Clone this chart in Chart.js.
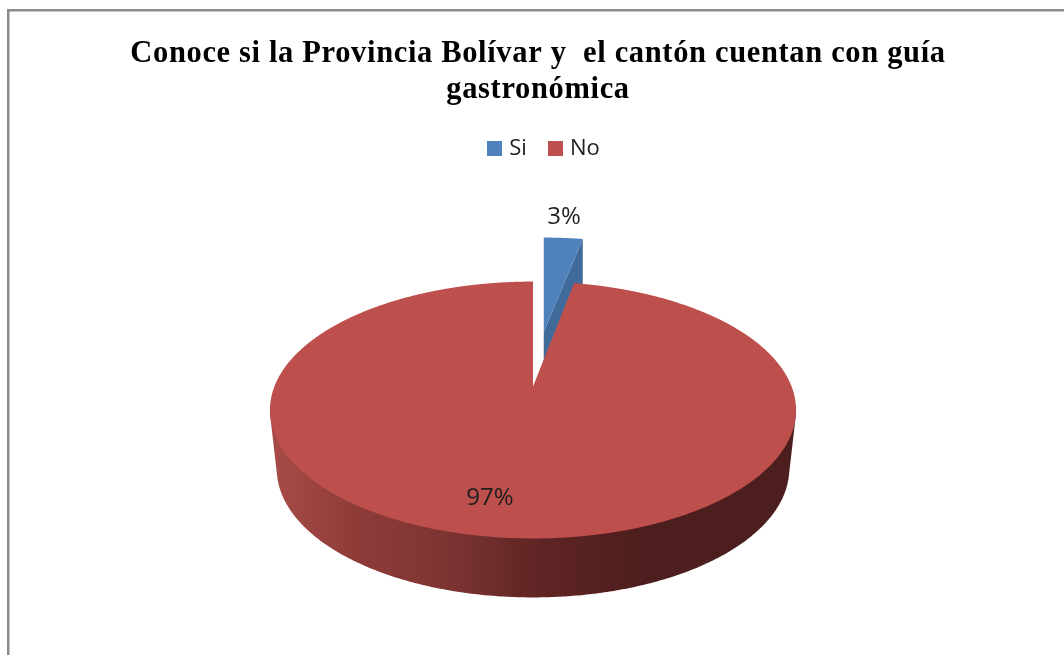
<!DOCTYPE html>
<html>
<head>
<meta charset="utf-8">
<style>html,body{margin:0;padding:0;background:#fff}canvas{display:block}</style>
<script src="https://cdn.jsdelivr.net/npm/chart.js@4"></script>
</head>
<body>
<canvas id="chart" width="1064" height="655"></canvas>
<script>
const titleLines = ['Conoce si la Provincia Bolívar y  el cantón cuentan con guía', 'gastronómica'];
const categories = ['Si', 'No'];
const shares = [3, 97];
const sliceColors = ['#4f81bd', '#bd4f4c'];
const cutFaceColor = '#3f6a99';
const explode = [124, 0];

// Tilted-disc projection: a point on the unit disc goes through a homography
const TILT = 0.48, PERSPECTIVE = 0.183, DEPTH = 59, FOOT_SCALE = 0.974, CENTER_SHIFT = -5;
// A pulled-out slice sits further back and reads slightly smaller
const FAR_SCALE_X = 0.95, FAR_SCALE_Y = 0.9;

function project(arc, u, v) {
  const w = 1 + PERSPECTIVE * v;
  return [arc.x + CENTER_SHIFT + arc.outerRadius * u / w,
          arc.y - arc.outerRadius * TILT * v / w];
}
function foot(arc, p) {
  const cx = arc.x + CENTER_SHIFT;
  return [cx + (p[0] - cx) * FOOT_SCALE, p[1] + DEPTH];
}
function convexHull(points) {
  const pts = points.slice().sort((a, b) => a[0] - b[0] || a[1] - b[1]);
  const cross = (o, a, b) => (a[0] - o[0]) * (b[1] - o[1]) - (a[1] - o[1]) * (b[0] - o[0]);
  const half = list => {
    const h = [];
    for (const p of list) {
      while (h.length > 1 && cross(h[h.length - 2], h[h.length - 1], p) <= 0) h.pop();
      h.push(p);
    }
    h.pop();
    return h;
  };
  return half(pts).concat(half(pts.slice().reverse()));
}

class Arc3D extends Chart.ArcElement {
  static id = 'arc3d';
  draw(ctx) {
    const arc = this.getProps(['x', 'y', 'startAngle', 'endAngle', 'outerRadius']);
    const opt = this.options;
    const a0 = arc.startAngle + Math.PI / 2, a1 = arc.endAngle + Math.PI / 2;
    const mid = (a0 + a1) / 2, d = (opt.offset || 0) / arc.outerRadius;
    const apex = project(arc, Math.sin(mid) * d, Math.cos(mid) * d);
    const hub = project(arc, 0, 0);
    const sx = d > 0 ? FAR_SCALE_X : 1, sy = d > 0 ? FAR_SCALE_Y : 1;
    const rim = a => {
      const p = project(arc, Math.sin(a), Math.cos(a));
      return [apex[0] + (p[0] - hub[0]) * sx, apex[1] + (p[1] - hub[1]) * sy];
    };
    const trace = pts => { ctx.beginPath(); pts.forEach((p, i) => i ? ctx.lineTo(p[0], p[1]) : ctx.moveTo(p[0], p[1])); ctx.closePath(); };

    ctx.save();
    if (a1 - a0 > Math.PI) {
      // curved outer wall along the front of the disc
      const wall = [];
      for (let deg = 100; deg <= 260; deg += 0.5) {
        const p = rim(deg * Math.PI / 180);
        wall.push(p, foot(arc, p));
      }
      const g = ctx.createLinearGradient(272, 0, 650, 0);
      g.addColorStop(0, '#a74b48');
      g.addColorStop(0.22, '#8f3c39');
      g.addColorStop(0.47, '#7c3432');
      g.addColorStop(0.7, '#602524');
      g.addColorStop(1, '#4c1e1d');
      ctx.fillStyle = g;
      trace(convexHull(wall));
      ctx.fill();
    } else {
      // inner cut face of a pulled-out slice
      const e = rim(a1);
      ctx.fillStyle = cutFaceColor;
      trace([apex, e, [e[0], e[1] + DEPTH], [apex[0], apex[1] + DEPTH]]);
      ctx.fill();
    }
    const face = [apex];
    const n = Math.ceil((a1 - a0) / (Math.PI / 720));
    for (let i = 0; i <= n; i++) face.push(rim(a0 + (a1 - a0) * i / n));
    ctx.fillStyle = opt.backgroundColor;
    trace(face);
    ctx.fill();
    ctx.restore();
  }
}

class Pie3DController extends Chart.PieController {
  static id = 'pie3d';
  static defaults = { dataElementType: 'arc3d' };
}
Chart.register(Arc3D, Pie3DController);

function swatch(color) {
  const c = document.createElement('canvas');
  c.width = 15; c.height = 15;
  const x = c.getContext('2d');
  x.fillStyle = color;
  x.fillRect(0, 0, 15, 15);
  return c;
}

// Frame drawn on the top and left sides of the chart
const framePlugin = {
  id: 'frame',
  beforeDraw(chart) {
    const ctx = chart.ctx;
    ctx.save();
    ctx.fillStyle = '#fff';
    ctx.fillRect(0, 0, chart.width, chart.height);
    ctx.strokeStyle = '#8c8c8c';
    ctx.lineWidth = 2.5;
    ctx.beginPath();
    ctx.moveTo(8.25, chart.height);
    ctx.lineTo(8.25, 10.25);
    ctx.lineTo(chart.width, 10.25);
    ctx.stroke();
    ctx.restore();
  }
};

// Percentage labels beside each slice
const labelSpots = [[564, 217], [490, 498]];
const percentPlugin = {
  id: 'percent',
  afterDatasetsDraw(chart) {
    const ctx = chart.ctx, total = shares.reduce((a, b) => a + b, 0);
    ctx.save();
    ctx.font = '24px "Open Sans"';
    ctx.fillStyle = '#1f1f1f';
    ctx.textAlign = 'center';
    ctx.textBaseline = 'middle';
    shares.forEach((s, i) => ctx.fillText(Math.round(s / total * 100) + '%', labelSpots[i][0], labelSpots[i][1]));
    ctx.restore();
  }
};

// Tracks the title out a little and nudges the legend beside it
const boxTweaks = {
  id: 'boxTweaks',
  afterLayout(chart) {
    const ctx = chart.ctx;
    if (chart.titleBlock && !chart.titleBlock._tracked) {
      const drawTitle = chart.titleBlock.draw;
      chart.titleBlock.draw = function () {
        ctx.save();
        ctx.letterSpacing = '0.65px';
        drawTitle.apply(this, arguments);
        ctx.restore();
      };
      chart.titleBlock._tracked = true;
    }
    if (chart.legend && !chart.legend._nudged) {
      const drawLegend = chart.legend.draw;
      chart.legend.draw = function () {
        ctx.save();
        ctx.translate(7.5, -3);
        drawLegend.apply(this, arguments);
        ctx.restore();
      };
      chart.legend._nudged = true;
    }
  }
};

new Chart(document.getElementById('chart'), {
  type: 'pie3d',
  data: {
    labels: categories,
    datasets: [{ data: shares, backgroundColor: sliceColors, borderWidth: 0, offset: explode, radius: 258.6 }]
  },
  plugins: [framePlugin, percentPlugin, boxTweaks],
  options: {
    responsive: false,
    animation: false,
    events: [],
    layout: { padding: { left: 12, bottom: 55, top: 36 } },
    plugins: {
      tooltip: { enabled: false },
      title: {
        display: true,
        text: titleLines,
        color: '#000',
        font: { family: '"Liberation Serif"', size: 30.5, weight: 'bold', lineHeight: 1.18 },
        padding: { top: 0, bottom: 8 }
      },
      legend: {
        position: 'top',
        labels: {
          color: '#222',
          font: { family: '"Open Sans"', size: 22 },
          usePointStyle: true,
          pointStyleWidth: 7,
          padding: 25,
          generateLabels: chart => chart.data.labels.map((t, i) => ({
            text: t,
            fontColor: '#222',
            pointStyle: swatch(sliceColors[i]),
            lineWidth: 0,
            index: i
          }))
        }
      }
    }
  }
});
</script>
</body>
</html>
